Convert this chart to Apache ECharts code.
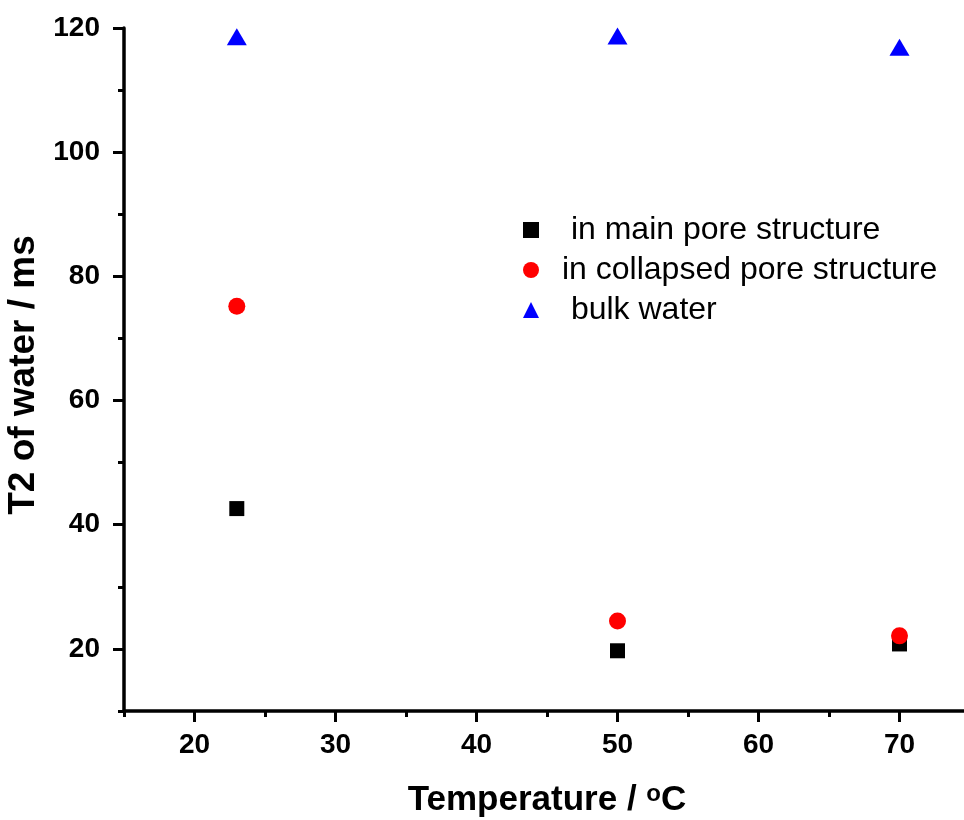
<!DOCTYPE html>
<html>
<head>
<meta charset="utf-8">
<script src="https://cdn.jsdelivr.net/npm/echarts@6/dist/echarts.min.js"></script>
<style>html,body{margin:0;padding:0;background:#fff}#c{width:964px;height:820px}</style>
</head>
<body>
<div id="c"></div>
<script>
// data
const temperatures = [23, 50, 70];
const mainPore = [42.6, 19.7, 20.8];
const collapsedPore = [75.2, 24.5, 22.1];
const bulkWater = [118.6, 118.7, 116.9];
const seriesNames = [' in main pore structure', 'in collapsed pore structure', ' bulk water'];
const xMajorTicks = [20, 30, 40, 50, 60, 70];
const xMinorTicks = [15, 25, 35, 45, 55, 65, 75];
const yMajorTicks = [20, 40, 60, 80, 100, 120];
const yMinorTicks = [10, 30, 50, 70, 90, 110];

const FONT = '"Liberation Sans", Arial, sans-serif';
const pairs = arr => temperatures.map((t, i) => [t, arr[i]]);

const chart = echarts.init(document.getElementById('c'), null, {renderer: 'canvas'});
const axisLineStyle = {color: '#000', width: 3.5};
const baseX = {
  type: 'value', min: 15, max: 75, gridIndex: 0, position: 'bottom',
  splitLine: {show: false},
  axisLine: {show: true, onZero: false, lineStyle: axisLineStyle}
};
const baseY = {
  type: 'value', min: 10, max: 120, gridIndex: 0, position: 'left',
  splitLine: {show: false},
  axisLine: {show: true, onZero: false, lineStyle: axisLineStyle}
};
chart.setOption({
  animation: false,
  backgroundColor: '#fff',
  grid: {left: 124, top: 28, right: -6, bottom: 109, containLabel: false, outerBoundsMode: 'none'},
  xAxis: [
    Object.assign({}, baseX, {
      name: 'Temperature / {sup|o}C',
      nameLocation: 'middle', nameGap: 71,
      nameTextStyle: {fontFamily: FONT, fontWeight: 'bold', fontSize: 35, lineHeight: 36, color: '#000',
        rich: {sup: {fontFamily: FONT, fontWeight: 'bold', fontSize: 24, lineHeight: 24, color: '#000', verticalAlign: 'top'}}},
      axisTick: {show: true, customValues: xMajorTicks, length: 11, lineStyle: {color: '#000', width: 3}},
      axisLabel: {show: true, customValues: xMajorTicks, margin: 20, fontFamily: FONT, fontWeight: 'bold', fontSize: 28, color: '#000'}
    }),
    Object.assign({}, baseX, {
      axisLine: {show: false},
      axisTick: {show: true, customValues: xMinorTicks, length: 6, lineStyle: {color: '#000', width: 3}},
      axisLabel: {show: false}
    })
  ],
  yAxis: [
    Object.assign({}, baseY, {
      name: 'T2 of water / ms',
      nameLocation: 'middle', nameGap: 76,
      nameTextStyle: {fontFamily: FONT, fontWeight: 'bold', fontSize: 37, color: '#000', padding: [0, 11, 0, 0]},
      axisTick: {show: true, customValues: yMajorTicks, length: 11, lineStyle: {color: '#000', width: 3}},
      axisLabel: {show: true, customValues: yMajorTicks, margin: 24, fontFamily: FONT, fontWeight: 'bold', fontSize: 28, color: '#000'}
    }),
    Object.assign({}, baseY, {
      axisLine: {show: false},
      axisTick: {show: true, customValues: yMinorTicks, length: 6, lineStyle: {color: '#000', width: 3}},
      axisLabel: {show: false}
    })
  ],
  legend: {
    orient: 'vertical', left: 518, top: 209, itemGap: 8,
    itemWidth: 16, itemHeight: 16,
    textStyle: {fontFamily: FONT, fontSize: 32, color: '#000', padding: [0, 0, 0, 18]},
    data: [
      {name: seriesNames[0], icon: 'rect', itemStyle: {color: '#000'}},
      {name: seriesNames[1], icon: 'circle', itemStyle: {color: '#ff0000'}},
      {name: seriesNames[2], icon: 'triangle', itemStyle: {color: '#0000ff'}}
    ]
  },
  series: [
    {name: seriesNames[0], type: 'scatter', symbol: 'rect', symbolSize: 15, itemStyle: {color: '#000', opacity: 1}, data: pairs(mainPore), z: 3},
    {name: seriesNames[1], type: 'scatter', symbol: 'circle', symbolSize: 17, itemStyle: {color: '#ff0000', opacity: 1}, data: pairs(collapsedPore), z: 4},
    {name: seriesNames[2], type: 'scatter', symbol: 'triangle', symbolSize: [20, 17], itemStyle: {color: '#0000ff', opacity: 1}, data: pairs(bulkWater), z: 5}
  ]
});
</script>
</body>
</html>
